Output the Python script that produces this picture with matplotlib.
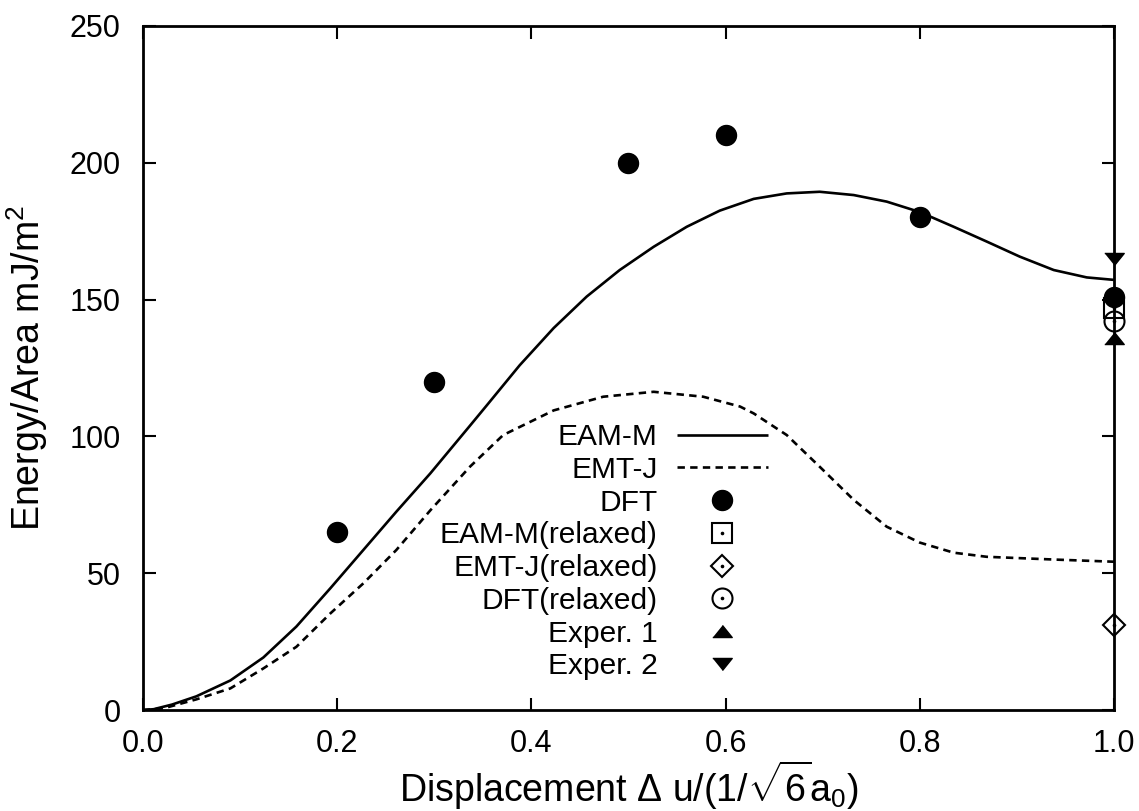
import matplotlib
matplotlib.use("Agg")
import matplotlib.pyplot as plt
from matplotlib.legend_handler import HandlerTuple

plt.rcParams['font.family'] = ['Liberation Sans', 'DejaVu Sans']
plt.rcParams['mathtext.fontset'] = 'custom'
plt.rcParams['mathtext.rm'] = 'Liberation Sans'
plt.rcParams['mathtext.it'] = 'Liberation Sans:italic'
plt.rcParams['mathtext.bf'] = 'Liberation Sans:bold'

# ---- data ----
eam_x = [0.0, 0.011, 0.030, 0.055, 0.090, 0.124, 0.158, 0.193, 0.227, 0.261, 0.296,
         0.337, 0.354, 0.388, 0.423, 0.457, 0.491, 0.526, 0.560, 0.594, 0.629,
         0.663, 0.697, 0.732, 0.766, 0.800, 0.835, 0.869, 0.903, 0.938, 0.972, 1.0]
eam_y = [0.0, 0.3, 2.0, 5.0, 10.8, 19.2, 30.5, 44.5, 58.5, 72.5, 86.5,
         104.0, 111.3, 126.0, 139.6, 151.1, 160.8, 169.3, 176.6, 182.5, 186.8,
         188.8, 189.4, 188.2, 185.8, 182.0, 176.6, 171.2, 165.7, 160.8, 158.1, 157.2]

emt_x = [0.0, 0.021, 0.055, 0.090, 0.124, 0.158, 0.193, 0.227, 0.261, 0.296, 0.337,
         0.371, 0.423, 0.474, 0.526, 0.577, 0.615, 0.629, 0.663, 0.697, 0.732,
         0.766, 0.800, 0.835, 0.869, 0.938, 1.0]
emt_y = [0.0, 0.6, 3.9, 7.9, 15.2, 23.1, 35.3, 46.3, 58.5, 73.0, 89.0,
         100.5, 109.5, 114.5, 116.3, 114.5, 110.9, 108.4, 100.5, 88.9, 76.8,
         67.0, 61.2, 57.5, 56.0, 55.0, 54.2]

dft_x = [0.2, 0.3, 0.5, 0.6, 0.8, 1.0]
dft_y = [65, 120, 200, 210, 180, 151]

eam_rel_x, eam_rel_y = [1.0], [147]
emt_rel_x, emt_rel_y = [1.0], [31]
dft_rel_x, dft_rel_y = [1.0], [142]
exp1_x, exp1_y = [1.0], [136]
exp2_x, exp2_y = [1.0], [165]

xticks = [0.0, 0.2, 0.4, 0.6, 0.8, 1.0]
xticklabels = ['0.0', '0.2', '0.4', '0.6', '0.8', '1.0']
yticks = [0, 50, 100, 150, 200, 250]

# ---- figure ----
fig = plt.figure(figsize=(11.39, 8.11), dpi=100)
ax = fig.add_axes([0.1255, 0.1245, 0.978 - 0.1255, 0.968 - 0.1245])

lw = 1.9
h_eam, = ax.plot(eam_x, eam_y, color='black', lw=lw, solid_capstyle='butt',
                 solid_joinstyle='round')
h_emt, = ax.plot(emt_x, emt_y, color='black', lw=lw, linestyle=(0, (2.8, 2.0)))

tri_up = [(-1, -0.62), (1, -0.62), (0, 0.62)]
tri_dn = [(-1, 0.62), (1, 0.62), (0, -0.62)]

dot = dict(marker='o', markersize=1.6, color='black', linestyle='none',
           clip_on=False, zorder=6)
h_dft, = ax.plot(dft_x, dft_y, 'o', color='black', markersize=14.4, clip_on=False, zorder=5)
h_sq, = ax.plot(eam_rel_x, eam_rel_y, 's', mfc='none', mec='black', mew=1.5,
                markersize=14.5, clip_on=False, zorder=5)
h_sq_d, = ax.plot(eam_rel_x, eam_rel_y, **dot)
h_di, = ax.plot(emt_rel_x, emt_rel_y, 'D', mfc='none', mec='black', mew=1.5,
                markersize=11.5, clip_on=False, zorder=5)
h_di_d, = ax.plot(emt_rel_x, emt_rel_y, **dot)
h_ci, = ax.plot(dft_rel_x, dft_rel_y, 'o', mfc='none', mec='black', mew=1.5,
                markersize=14.4, clip_on=False, zorder=5)
h_ci_d, = ax.plot(dft_rel_x, dft_rel_y, **dot)
h_e1, = ax.plot(exp1_x, exp1_y, marker=tri_up, color='black', linestyle='none',
                markersize=14, clip_on=False, zorder=5)
h_e2, = ax.plot(exp2_x, exp2_y, marker=tri_dn, color='black', linestyle='none',
                markersize=14, clip_on=False, zorder=5)

ax.set_xlim(0, 1.0)
ax.set_ylim(0, 250)
ax.set_xticks(xticks)
ax.set_xticklabels(xticklabels)
ax.set_yticks(yticks)
ax.tick_params(direction='in', length=9, width=1.5, top=True, right=True,
               labelsize=22)
ax.tick_params(axis='y', pad=16)
ax.tick_params(axis='x', pad=13.5)
for s in ax.spines.values():
    s.set_linewidth(2.0)

ax.set_xlabel(r'Displacement $\Delta$ u/(1/$\sqrt{6}$a$_0$)', fontsize=27)
ax.xaxis.set_label_coords(0.5, -0.071)
ax.set_ylabel(r'Energy/Area mJ/m$^2$', fontsize=27, labelpad=14)

handles = [h_eam, h_emt, h_dft, (h_sq, h_sq_d), (h_di, h_di_d), (h_ci, h_ci_d), h_e1, h_e2]
labels = ['EAM-M', 'EMT-J', 'DFT', 'EAM-M(relaxed)', 'EMT-J(relaxed)',
          'DFT(relaxed)', 'Exper. 1', 'Exper. 2']
leg = ax.legend(handles, labels, markerfirst=False, frameon=False, fontsize=21.5,
                loc='upper right', bbox_to_anchor=(768 / 1139, (811 - 423) / 811),
                bbox_transform=fig.transFigure, borderpad=0, borderaxespad=0,
                handlelength=3.05, handletextpad=0.65, labelspacing=0.16,
                handler_map={tuple: HandlerTuple(ndivide=1, pad=0)})

fig.savefig('out.png', dpi=100)
